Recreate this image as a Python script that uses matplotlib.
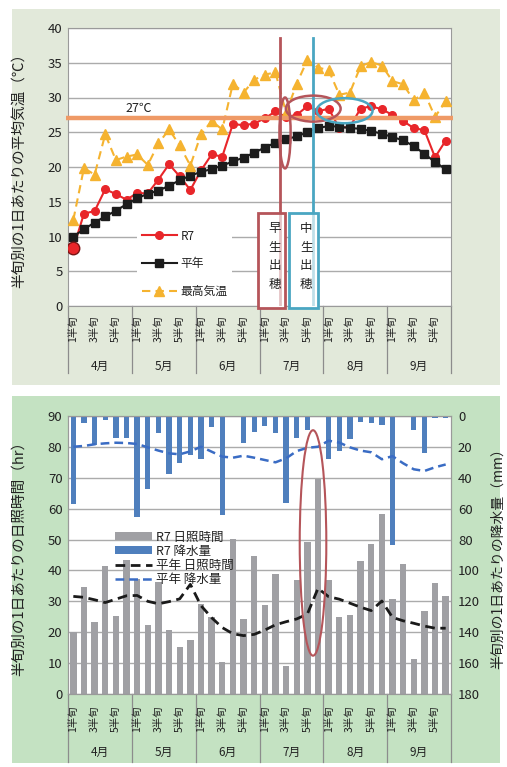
import numpy as np
import matplotlib
matplotlib.use('Agg')
import matplotlib.pyplot as plt
import matplotlib.transforms as mtransforms
from matplotlib.patches import Rectangle, Ellipse, Patch
from matplotlib.lines import Line2D

plt.rcParams['font.family'] = ['Noto Sans CJK JP', 'DejaVu Sans']

# --- data (half-month periods, Apr-Sep) ---
months = ['4月', '5月', '6月', '7月', '8月', '9月']
half_labels = ['1半旬', '', '3半旬', '', '5半旬', '']

r7_temp = [8.3, 13.3, 13.65, 16.8, 16.1, 15.3, 16.25, 16.2, 18.2, 20.4, 18.65, 16.7,
           19.5, 21.8, 21.5, 26.2, 26.0, 26.25, 27.0, 28.0, 27.2, 27.5, 28.75, 28.0,
           28.4, 25.6, 25.8, 28.4, 28.75, 28.3, 27.5, 26.6, 25.6, 25.3, 21.4, 23.8]
avg_temp = [10.0, 11.05, 12.0, 12.9, 13.7, 14.65, 15.5, 16.15, 16.6, 17.3, 18.1, 18.75,
            19.3, 19.7, 20.2, 20.8, 21.35, 22.05, 22.8, 23.5, 24.0, 24.4, 25.0, 25.6,
            25.9, 25.8, 25.6, 25.5, 25.15, 24.8, 24.3, 23.85, 23.0, 21.9, 20.7, 19.7]
max_temp = [12.4, 19.85, 18.9, 24.7, 21.0, 21.5, 21.8, 20.3, 23.4, 25.4, 23.1, 20.2,
            24.7, 26.6, 25.4, 32.0, 30.7, 32.55, 33.3, 33.6, 27.8, 32.0, 35.4, 34.3,
            33.95, 30.4, 30.7, 34.5, 35.1, 34.6, 32.35, 31.9, 29.6, 30.7, 27.2, 29.5]

sun_r7 = [20.1, 34.6, 23.4, 41.6, 25.1, 43.4, 37.3, 22.4, 36.3, 20.7, 15.1, 17.5,
          29.0, 25.0, 10.3, 50.1, 24.4, 44.8, 28.9, 38.7, 9.2, 37.0, 49.2, 69.7,
          36.9, 24.9, 25.7, 43.2, 48.5, 58.4, 30.7, 42.2, 11.3, 26.8, 36.0, 31.6]
sun_avg = [31.6, 31.3, 30.5, 29.6, 30.7, 31.8, 31.9, 30.0, 29.2, 29.9, 30.8, 35.5,
           28.6, 24.7, 21.5, 19.5, 18.9, 19.3, 20.7, 22.4, 23.4, 24.3, 25.9, 34.2,
           31.5, 30.7, 29.4, 28.1, 27.0, 30.1, 24.8, 23.7, 22.9, 22.0, 21.3, 21.3]
rain_r7 = [57.2, 4.7, 18.8, 2.6, 14.2, 14.2, 65.6, 47.5, 10.8, 37.6, 30.4, 25.5,
           27.6, 7.4, 64.1, 0.9, 17.5, 10.1, 6.5, 10.8, 56.6, 14.3, 9.1, 0.0,
           28.1, 22.6, 14.8, 4.2, 4.7, 5.6, 83.5, 0.9, 9.0, 23.7, 1.4, 1.4]
rain_avg = [19.9, 19.4, 18.3, 17.7, 17.3, 17.5, 18.1, 20.3, 22.4, 24.2, 24.8, 22.9,
            19.9, 23.1, 26.3, 27.0, 25.7, 27.0, 28.5, 30.0, 27.4, 22.7, 20.6, 19.9,
            16.0, 17.2, 20.3, 22.4, 23.5, 28.0, 26.0, 30.6, 34.5, 35.6, 33.2, 31.4]

W, H = 507, 767
fig = plt.figure(figsize=(W / 100, H / 100), dpi=100)


def fx(px):
    return px / W


def fy(py):
    return 1 - py / H


# panel backgrounds
fig.patches.append(Rectangle((fx(12), fy(385)), fx(500) - fx(12), fy(9) - fy(385),
                             transform=fig.transFigure, facecolor='#e2e9da', edgecolor='none', zorder=-5))
fig.patches.append(Rectangle((fx(12), fy(763)), fx(500) - fx(12), fy(396) - fy(763),
                             transform=fig.transFigure, facecolor='#c4e2c2', edgecolor='none', zorder=-5))

grid_c = '#ababab'
x = np.arange(36) + 0.5


def cat_axis(ax, tick_y, month_y, sep_len):
    ax.set_xlim(0, 36)
    ax.set_xticks([])
    trans = mtransforms.blended_transform_factory(ax.transData, ax.transAxes)
    for m in range(6):
        for k in range(0, 6, 2):
            ax.text(m * 6 + k + 0.5, tick_y, half_labels[k], rotation=90, ha='center', va='top',
                    fontsize=7.5, color='#222222', transform=trans)
        ax.text(m * 6 + 3, month_y, months[m], ha='center', va='center', fontsize=8.5,
                color='#222222', transform=trans)
    for m in range(7):
        ax.plot([m * 6, m * 6], [0, -sep_len], transform=trans, color='#8c8c8c', lw=0.9, clip_on=False)
    for s in ax.spines.values():
        s.set_color('#9a9a9a')
    ax.tick_params(axis='y', length=0, labelsize=9.5, colors='#222222')
    ax.yaxis.grid(True, color=grid_c, lw=1)
    ax.set_axisbelow(True)


# ================= top chart: temperature =================
ax1 = fig.add_axes([fx(68), fy(306), fx(451) - fx(68), fy(28) - fy(306)])
ax1.set_ylim(0, 40)
ax1.set_yticks(range(0, 41, 5))
ax1.tick_params(axis='y', pad=4)
cat_axis(ax1, -0.033, -0.218, 0.24)
ax1.set_ylabel('半旬別の1日あたりの平均気温（℃）', fontsize=10.5, color='#222222')
ax1.yaxis.set_label_coords(-0.11, 0.5)

ax1.plot(x, r7_temp, color='#e8262a', lw=1.5, marker='o', ms=5.5, zorder=3)
ax1.plot(x, avg_temp, color='#1c1c1c', lw=1.5, marker='s', ms=5.5, zorder=4)
ax1.plot(x, max_temp, color='#f5b330', lw=1.5, ls=(0, (4, 2.5)), marker='^', ms=6.5, zorder=5)
ax1.plot(x[0], r7_temp[0], marker='o', ms=9, mfc='#e8262a', mec='#7a1515', mew=1, zorder=6)

# 27 degree reference line
ax1.plot([-0.22, 36.2], [27, 27], color='#ef9a66', lw=3.2, zorder=6, clip_on=False, solid_capstyle='butt')
ax1.text(6.6, 27.5, '27℃', fontsize=9, ha='center', va='bottom', color='#222222', zorder=7)

# heading markers
red_c = '#b5555a'
blue_c = '#4aa6c2'
ax1.plot([19.96, 19.96], [38.6, 13.4], color=red_c, lw=2, zorder=7)
ax1.plot([23.0, 23.0], [38.6, 13.4], color=blue_c, lw=2, zorder=7)
ax1.add_patch(Rectangle((17.83, -0.25), 2.6, 13.65, facecolor='white', edgecolor=red_c, lw=2,
                        zorder=8, clip_on=False))
ax1.add_patch(Rectangle((20.8, -0.25), 2.72, 13.65, facecolor='white', edgecolor=blue_c, lw=2,
                        zorder=8, clip_on=False))
ax1.plot([19.96, 19.96], [13.4, -0.2], color=red_c, lw=2, alpha=0.35, zorder=8)
ax1.plot([23.0, 23.0], [13.4, -0.2], color=blue_c, lw=2, alpha=0.35, zorder=8)
ax1.text(19.4, 7.1, '早\n生\n出\n穂', ha='center', va='center', fontsize=9, linespacing=1.55,
         color='#222222', zorder=9)
ax1.text(22.4, 7.1, '中\n生\n出\n穂', ha='center', va='center', fontsize=9, linespacing=1.55,
         color='#222222', zorder=9)
ax1.add_patch(Ellipse((20.4, 24.9), 1.05, 10.2, fill=False, edgecolor=red_c, lw=1.8, zorder=7))
ax1.add_patch(Ellipse((23.05, 28.4), 5.15, 3.74, fill=False, edgecolor=red_c, lw=1.8, zorder=7))
ax1.add_patch(Ellipse((26.0, 28.1), 5.25, 3.6, fill=False, edgecolor=blue_c, lw=1.8, zorder=7))

h1 = [Line2D([], [], color='#e8262a', lw=1.5, marker='o', ms=5.5),
      Line2D([], [], color='#1c1c1c', lw=1.5, marker='s', ms=5.5),
      Line2D([], [], color='#f5b330', lw=1.5, ls=(0, (4, 2.5)), marker='^', ms=6.5)]
leg1 = ax1.legend(h1, ['R7', '平年', '最高気温'], loc='upper left',
                  bbox_to_anchor=(fx(131), fy(219)), bbox_transform=fig.transFigure,
                  frameon=True, facecolor='white', edgecolor='none', framealpha=1, fancybox=False,
                  fontsize=8.5, handlelength=3.0, handletextpad=0.3, labelspacing=1.25,
                  borderpad=0.4)
leg1.set_zorder(6)
for t in leg1.get_texts():
    t.set_color('#222222')

# ================= bottom chart: sunshine / precipitation =================
ax2 = fig.add_axes([fx(68), fy(694), fx(451) - fx(68), fy(416) - fy(694)])
ax2.set_ylim(0, 90)
ax2.set_yticks(range(0, 91, 10))
ax2.tick_params(axis='y', pad=4)
cat_axis(ax2, -0.04, -0.212, 0.245)
ax2.set_ylabel('半旬別の1日あたりの日照時間（hr）', fontsize=10.5, color='#222222')
ax2.yaxis.set_label_coords(-0.11, 0.5)

ax2.bar(x, sun_r7, width=0.6, color='#a0a0a4', zorder=2)
ax2.plot(x, sun_avg, color='#1a1a1a', lw=2, ls=(0, (3.5, 2)), zorder=4)

ax3 = ax2.twinx()
ax3.set_ylim(180, 0)
ax3.set_yticks(range(0, 181, 20))
ax3.tick_params(axis='y', length=0, labelsize=9.5, colors='#222222', pad=5)
for s in ax3.spines.values():
    s.set_color('#9a9a9a')
ax3.set_ylabel('半旬別の1日あたりの降水量（mm）', fontsize=10, color='#222222')
ax3.yaxis.set_label_coords(1.103, 0.5)
ax3.bar(x, rain_r7, width=0.5, color='#4f7fbd', zorder=2)
ax3.plot(x, rain_avg, color='#3a6cc4', lw=1.8, ls=(0, (3.5, 2)), zorder=3)

ell = Ellipse((23.03, 48.9), 2.5, 73, fill=False, edgecolor=red_c, lw=1.5, zorder=5,
              transform=ax2.transData)
ax3.add_artist(ell)

h2 = [Patch(facecolor='#a0a0a4'), Patch(facecolor='#4f7fbd'),
      Line2D([], [], color='#1a1a1a', lw=2, ls=(0, (3.5, 2))),
      Line2D([], [], color='#3a6cc4', lw=1.8, ls=(0, (3.5, 2)))]
leg2 = ax3.legend(h2, ['R7 日照時間', 'R7 降水量', '平年 日照時間', '平年 降水量'], loc='upper left',
                  bbox_to_anchor=(fx(106), fy(522)), bbox_transform=fig.transFigure,
                  frameon=False, fontsize=9, handlelength=3.0, handleheight=0.6,
                  handletextpad=0.3, labelspacing=0.08, borderpad=0.2)
for t in leg2.get_texts():
    t.set_color('#222222')

fig.savefig('out.png', dpi=100)
